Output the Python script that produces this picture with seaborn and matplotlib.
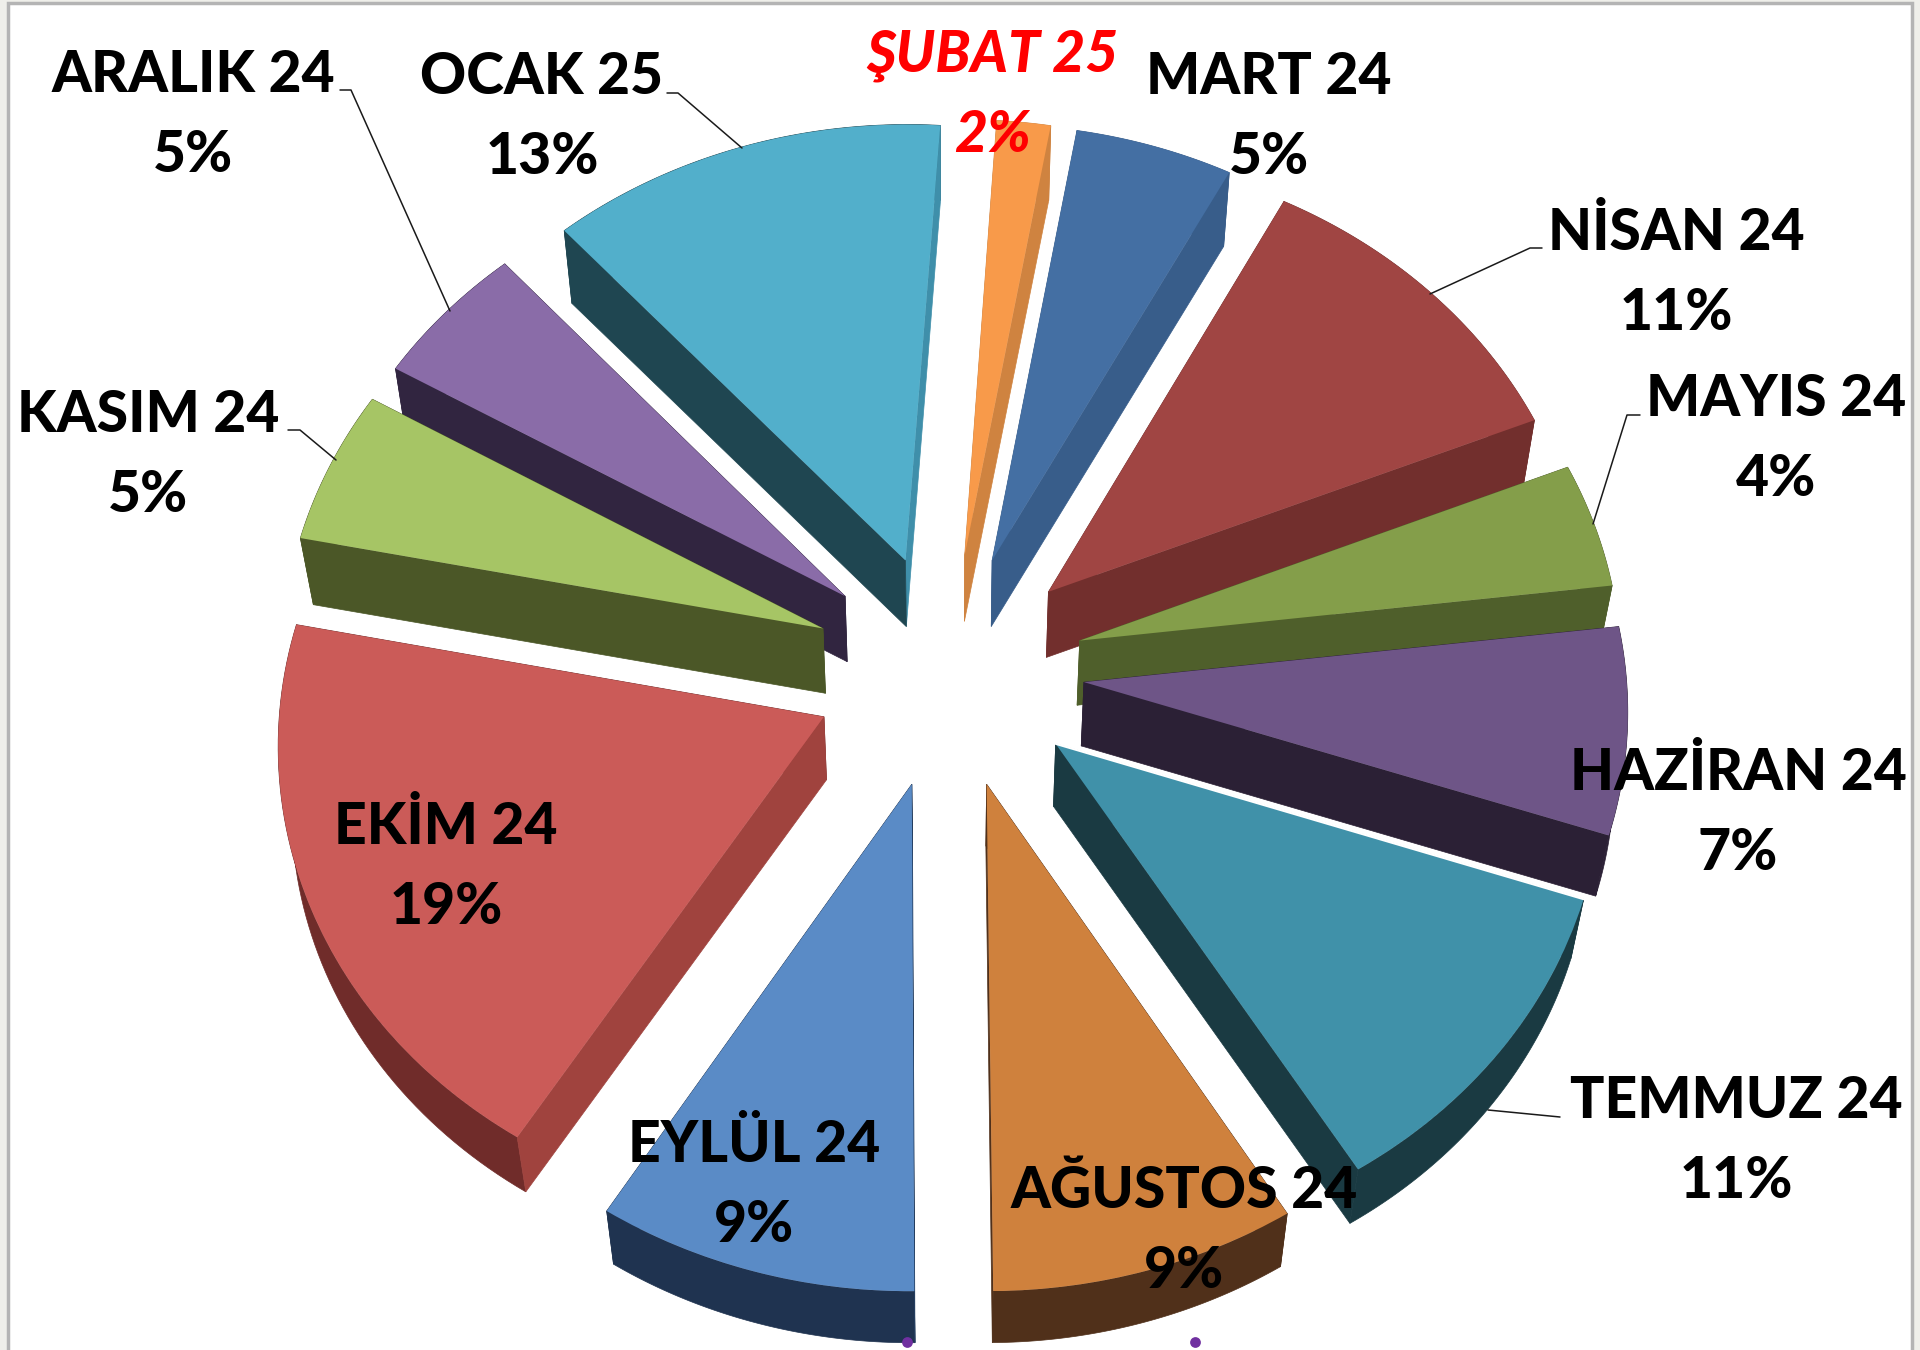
import numpy as np
import matplotlib
matplotlib.use("Agg")
import matplotlib.pyplot as plt
from matplotlib.transforms import Transform
from matplotlib.patches import Rectangle
import seaborn as sns

# ---------- data ----------
months = ["MART 24", "NİSAN 24", "MAYIS 24", "HAZİRAN 24", "TEMMUZ 24", "AĞUSTOS 24",
          "EYLÜL 24", "EKİM 24", "KASIM 24", "ARALIK 24", "OCAK 25", "ŞUBAT 25"]
shares = [5.0, 11.1, 4.3, 7.1, 11.1, 8.6, 9.0, 19.3, 5.3, 5.0, 12.6, 1.7]

# ---------- styling ----------
face = ["#446FA3", "#A04543", "#849E4A", "#6E5587", "#4091A9", "#CF813D",
        "#5A8BC6", "#CB5B58", "#A6C565", "#8A6CA8", "#52AFCB", "#F89A4A"]
rim = ["#385D8A", "#722F2D", "#4F5F2B", "#2B2035", "#1A3A42", "#50301A",
       "#1F3350", "#702C2A", "#4B5727", "#312540", "#1F4651", "#CF8340"]
cut_start = ["#385D8A", "#722F2D", "#4F5F2B", "#2B2035", "#1A3A42", "#50301A",
             "#243D5E", "#A0433E", "#4B5727", "#312540", "#1F4651", "#CF8340"]
cut_end = ["#385D8A", "#722F2D", "#4F5F2B", "#2B2035", "#1A3A42", "#50301A",
           "#1F3350", "#702C2A", "#4B5727", "#312540", "#3F8FAA", "#CF8340"]
label_xy = [(1269, 77), (1676, 233), (1776, 400), (1738, 773), (1736, 1102), (1184, 1192),
            (754, 1146), (446, 827), (148, 415), (193, 75), (542, 77), (992, 56)]
line_gap = 80
leaders = [[(340, 90), (351, 90), (450, 311)],
           [(667, 93), (678, 93), (742, 148)],
           [(288, 430), (300, 430), (336, 460)],
           [(1542, 248), (1530, 248), (1430, 294)],
           [(1640, 415), (1627, 415), (1593, 524)],
           [(1560, 1117), (1488, 1110)]]
dots_x = [907, 1195]
dots_y = [1342, 1342]

CX, CY, RX, RY, P = 949, 670, 542, 469, 0.051
DEPTH, SHRINK = 64, 0.02
EXPLODE = 0.25


class Tilt(Transform):
    """Projects the flat pie to the tilted view; t=0 top face, t=1 bottom face."""
    input_dims = output_dims = 2

    def __init__(self, t=0.0):
        super().__init__()
        self.t = t

    def transform_non_affine(self, values):
        values = np.asarray(values, float)
        u, v = values[:, 0], values[:, 1]
        w = 1 + P * v
        s = 1 - SHRINK * self.t
        return np.column_stack([CX + s * RX * u / w, CY + DEPTH * self.t - s * RY * v / w])


sns.set_theme(style="white")
plt.rcParams["font.family"] = ["Lato", "DejaVu Sans"]

fig = plt.figure(figsize=(19.2, 13.5), dpi=100, facecolor="#EFEFEA")
ax = fig.add_axes([0, 0, 1, 1])

top = Tilt(0)
bot = Tilt(1)
wedges, _ = ax.pie(shares, explode=[EXPLODE] * len(shares), startangle=80.2, counterclock=False,
                   colors=sns.color_palette(face),
                   wedgeprops={"transform": top + ax.transData, "linewidth": 0})
ax.set_aspect("auto")
ax.set_xlim(0, 1920)
ax.set_ylim(1350, 0)
ax.axis("off")
ax.add_patch(Rectangle((8, 3), 1904, 1360, facecolor="white", edgecolor="#B4B4B4", linewidth=2.5, zorder=0))


def prism(pts):
    a = top.transform_non_affine(pts)
    b = bot.transform_non_affine(pts[::-1])
    return np.vstack([a, b])


order = sorted(range(len(wedges)),
               key=lambda i: -np.sin(np.radians((wedges[i].theta1 + wedges[i].theta2) / 2)))
for z, i in enumerate(order):
    w = wedges[i]
    base = 10 + z * 5
    c = np.array(w.center)
    th = np.radians(np.linspace(w.theta1, w.theta2, 60))
    arc = c + w.r * np.column_stack([np.cos(th), np.sin(th)])
    for pts, col, dz in [(arc, rim[i], 0),
                         (np.vstack([c, arc[0]]), cut_end[i], 1),
                         (np.vstack([c, arc[-1]]), cut_start[i], 1)]:
        poly = prism(pts)
        ax.fill(poly[:, 0], poly[:, 1], color=col, lw=0.5, zorder=base + dz)
    w.set_zorder(base + 3)
    if months[i] == "TEMMUZ 24":
        edge = top.transform_non_affine(np.vstack([c, arc[-1]]))
        ax.plot(edge[:, 0], edge[:, 1], color="white", lw=1.5, zorder=base + 4)

for seg in leaders:
    xs, ys = zip(*seg)
    ax.plot(xs, ys, color="#1A1A1A", lw=1.1, zorder=70)

for m, s, (x, y) in zip(months, shares, label_xy):
    red = m.startswith("ŞUBAT")
    kw = dict(ha="center", va="center", fontsize=41, fontweight="black", zorder=80,
              color="#FF0000" if red else "black", style="italic" if red else "normal")
    ax.text(x, y, m, **kw)
    ax.text(x, y + line_gap, f"{s:.0f}%", **kw)

ax.scatter(dots_x, dots_y, s=60, color="#7030A0", zorder=90, linewidths=0)

fig.savefig("out.png", dpi=100)
